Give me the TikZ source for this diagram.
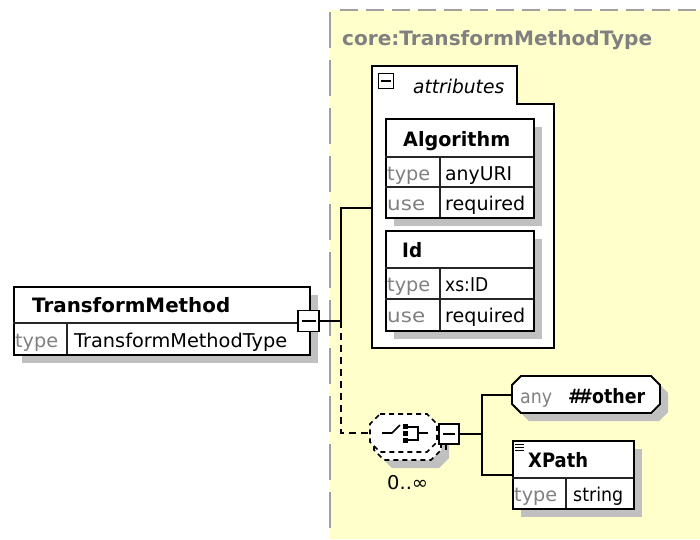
\documentclass[tikz,border=0pt]{standalone}
\usepackage{fontspec}
\usepackage{graphicx}
\setmainfont{DejaVu Sans}
\usetikzlibrary{shadows,calc}
\definecolor{bgyellow}{HTML}{FFFFCC}
\definecolor{bordergray}{HTML}{A0A0A0}
\definecolor{shadowc}{HTML}{C0C0C0}
\definecolor{txtgray}{HTML}{808080}
\newcommand{\regfont}{\fontsize{19}{22}\selectfont}
\newcommand{\boldfont}{\fontsize{19.8}{22}\selectfont\bfseries}
\newcommand{\tw}[2]{\resizebox{#1pt}{\height}{#2}}
\begin{document}
\begin{tikzpicture}[x=1pt,y=-1pt,
  elem/.style={draw=black, line width=1.8pt, fill=white, rectangle, inner sep=0pt, anchor=north west},
  shad/.style={drop shadow={shadow xshift=8pt,shadow yshift=-8pt,opacity=1,fill=shadowc}},
  hdr/.style={font=\boldfont, inner sep=0pt, anchor=base west},
  lbl/.style={font=\regfont, text=txtgray, inner sep=0pt, anchor=base west},
  val/.style={font=\regfont, inner sep=0pt, anchor=base west},
  sep/.style={line width=1.4pt, draw=black!85},
  conn/.style={line width=1.8pt},
  dconn/.style={line width=1.8pt, dash pattern=on 7pt off 5pt},
  minusbox/.style={draw, line width=1.8pt, fill=white, inner sep=0pt},
  compline/.style={line width=1.6pt, dash pattern=on 5pt off 4pt},
  ghost/.style={inner sep=0pt, anchor=north west},
]
\useasboundingbox (0,0) rectangle (700,539);

% complex type background
\fill[bgyellow] (330,10) rectangle (700,539);
\draw[bordergray, line width=2pt, dash pattern=on 18pt off 8pt] (340,10) -- (700,10);
\draw[bordergray, line width=2pt, dash pattern=on 36pt off 12pt] (330,12) -- (330,539);
\node[font=\boldfont, text=txtgray, inner sep=0pt, anchor=base west] (ctype) at (342,45) {\tw{310}{core:TransformMethodType}};

% TransformMethod element
\node[elem, shad, minimum width=296pt, minimum height=68pt] (tm) at (13,286) {};
\draw[sep] (13,323) -- (309,323);
\draw[sep] (67,323) -- (67,354);
\node[hdr] (tmname) at (32,312) {\tw{198}{TransformMethod}};
\node[lbl] (tmtype) at (15,347) {\tw{43}{type}};
\node[val] (tmval) at (74,347) {\tw{213}{TransformMethodType}};
\node[minusbox, minimum size=21pt] (tmminus) at (308.5,321) {};
\draw[line width=1.8pt] ($(tmminus.center)+(-7,0)$) -- ($(tmminus.center)+(7,0)$);

% attributes group
\draw[line width=1.8pt, fill=white] (372,66) -- (517,66) -- (517,104) -- (554,104) -- (554,348) -- (372,348) -- cycle;
\node[ghost, minimum width=182pt, minimum height=282pt] (attr) at (372,66) {};
\node[minusbox, minimum size=15pt, line width=1.6pt] (attrminus) at (386,81) {};
\draw[line width=1.6pt] (381,81) -- (391,81);
\node[val, font=\regfont\itshape] (attrlbl) at (413,93) {\tw{91}{attributes}};

% Algorithm attribute
\node[elem, shad, minimum width=148pt, minimum height=99pt] (alg) at (385,118) {};
\draw[sep] (385,157) -- (533,157);
\draw[sep] (385,187) -- (533,187);
\draw[sep] (440,157) -- (440,217);
\node[hdr] (algname) at (403,146) {\tw{107}{Algorithm}};
\node[lbl] (algtype) at (387,180) {\tw{43}{type}};
\node[val] (algtval) at (445,180) {\tw{67}{anyURI}};
\node[lbl] (alguse) at (387,210) {\tw{38}{use}};
\node[val] (alguval) at (445,210) {\tw{80}{required}};

% Id attribute
\node[elem, shad, minimum width=148pt, minimum height=100pt] (idb) at (385,230) {};
\draw[sep] (385,268) -- (533,268);
\draw[sep] (385,299) -- (533,299);
\draw[sep] (440,268) -- (440,330);
\node[hdr] (idname) at (402,257) {\tw{20}{Id}};
\node[lbl] (idtype) at (387,291) {\tw{43}{type}};
\node[val] (idtval) at (445,291) {\tw{43}{xs:ID}};
\node[lbl] (iduse) at (387,322) {\tw{38}{use}};
\node[val] (iduval) at (445,322) {\tw{80}{required}};

% compositor (sequence, 0..unbounded)
\fill[shadowc] (392,430) -- (439,430) -- (449,440) -- (449,458) -- (439,468) -- (392,468) -- (382,458) -- (382,440) -- cycle;
\draw[compline, fill=white] (384,422) -- (431,422) -- (441,432) -- (441,450) -- (431,460) -- (384,460) -- (374,450) -- (374,432) -- cycle;
\draw[compline, fill=white] (380,414) -- (427,414) -- (437,424) -- (437,442) -- (427,452) -- (380,452) -- (370,442) -- (370,424) -- cycle;
\node[inner sep=0pt, minimum width=67pt, minimum height=38pt] (comp) at (403.5,433) {};
\draw[line width=1.6pt] (382,433) -- (392,433) -- (400,425);
\fill (403,424) rectangle (408,429);
\fill (403,431) rectangle (408,436);
\fill (403,438) rectangle (408,443);
\draw[line width=1.6pt] (408,427) -- (418,427) -- (418,440) -- (408,440);
\draw[line width=1.6pt] (418,433) -- (428,433);
\node[val] (occ) at (387,489) {\tw{41}{0..∞}};
\node[minusbox, minimum size=20pt] (cminus) at (449,434) {};
\draw[line width=1.6pt] (443,434) -- (455,434);
\draw[line width=1.6pt] (446,444) -- (446,450);

% any ##other
\fill[shadowc] (529,384) -- (659,384) -- (668,393) -- (668,412) -- (659,421) -- (529,421) -- (520,412) -- (520,393) -- cycle;
\draw[line width=1.8pt, fill=white] (521,376) -- (651,376) -- (660,385) -- (660,404) -- (651,413) -- (521,413) -- (512,404) -- (512,385) -- cycle;
\node[ghost, minimum width=148pt, minimum height=37pt] (anyb) at (512,376) {};
\node[lbl] (anylbl) at (520,403) {\tw{32}{any}};
\node[hdr] (anyval) at (568,403) {\tw{77}{\#\kern-5pt\#\kern-1pt other}};

% XPath element
\node[elem, shad, minimum width=121pt, minimum height=68pt] (xp) at (512,440) {};
\draw[sep] (512,478) -- (633,478);
\draw[sep] (566,478) -- (566,508);
\draw[line width=1pt] (515,444) -- (524,444) (515,447) -- (524,447) (515,450) -- (524,450);
\node[hdr] (xpname) at (528,467) {\tw{60}{XPath}};
\node[lbl] (xptype) at (514,501) {\tw{43}{type}};
\node[val] (xptval) at (573,501) {\tw{50}{string}};

% connectors
\coordinate (j1) at (341,321);
\coordinate (j2) at (482,434);
\draw[conn] (tmminus.east) -- (j1) |- (attr.west |- 0,208);
\draw[dconn] (j1) |- (comp.west);
\draw[conn] (cminus.east) -- (j2);
\draw[conn] (j2) |- (anyb.west);
\draw[conn] (j2) |- (xp.west);
\end{tikzpicture}
\end{document}
